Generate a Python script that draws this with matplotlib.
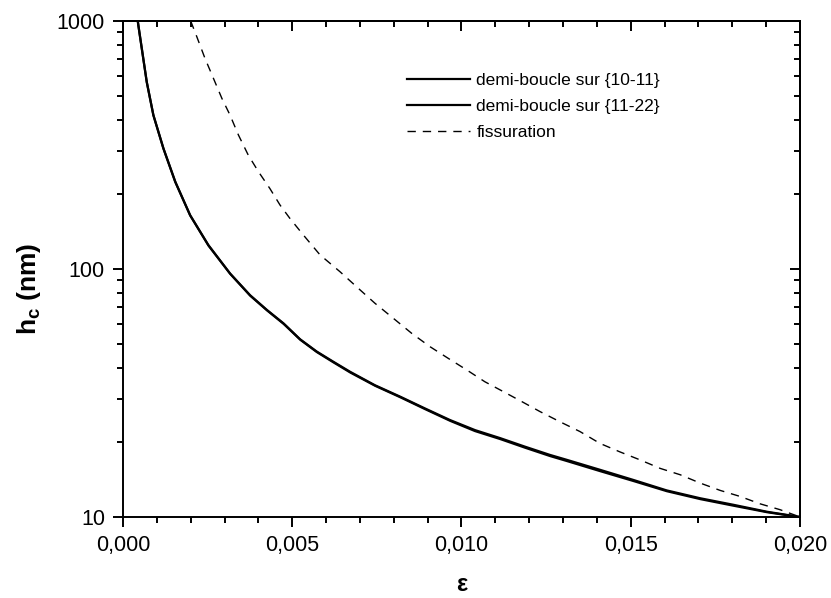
import matplotlib
matplotlib.use("Agg")
import matplotlib.pyplot as plt
from matplotlib.ticker import FuncFormatter, MultipleLocator, LogLocator, NullFormatter

plt.rcParams["font.family"] = ["Liberation Sans", "DejaVu Sans"]
plt.rcParams["mathtext.fontset"] = "custom"
plt.rcParams["mathtext.rm"] = "Liberation Sans"
plt.rcParams["mathtext.bf"] = "Liberation Sans:bold"

# values
eps_1011 = [0.000435, 0.000452, 0.000700, 0.000896, 0.00119, 0.00154, 0.00198, 0.00252,
            0.00316, 0.00375, 0.00425, 0.00474, 0.00523, 0.00572, 0.00621, 0.00671,
            0.00744, 0.00818, 0.00892, 0.00966, 0.0104, 0.01114, 0.01188, 0.01261,
            0.01311, 0.01409, 0.01508, 0.01606, 0.01705, 0.01803, 0.01902, 0.0198, 0.0200]
hc_1011 = [1000, 963, 569, 418, 307, 225, 165, 125,
           96, 78.5, 68.4, 60.4, 52.1, 46.5, 42.3, 38.5,
           34.0, 30.6, 27.4, 24.6, 22.4, 20.8, 19.2, 17.8,
           17.0, 15.5, 14.1, 12.8, 11.9, 11.2, 10.5, 10.1, 10.0]

eps_1122 = [0.000438, 0.000455, 0.000704, 0.000900, 0.00120, 0.00155, 0.00199, 0.00253,
            0.00317, 0.00376, 0.00426, 0.00475, 0.00524, 0.00573, 0.00622, 0.00672,
            0.00745, 0.00819, 0.00893, 0.00967, 0.0104, 0.01115, 0.01189, 0.01262,
            0.01312, 0.01410, 0.01509, 0.01607, 0.01706, 0.01804, 0.01903, 0.0198, 0.0200]
hc_1122 = [1000, 960, 566, 416, 305, 224, 164, 124,
           95.5, 78.0, 68.0, 60.0, 51.8, 46.2, 42.0, 38.2,
           33.8, 30.4, 27.2, 24.4, 22.2, 20.6, 19.0, 17.6,
           16.8, 15.3, 13.95, 12.7, 11.8, 11.1, 10.45, 10.08, 10.0]

eps_fiss = [0.00200, 0.00216, 0.00242, 0.00267, 0.00292, 0.00316, 0.00341, 0.00370,
            0.00400, 0.00434, 0.00464, 0.00493, 0.00533, 0.00582, 0.00641, 0.00695,
            0.00744, 0.00799, 0.00853, 0.00907, 0.00961, 0.01015, 0.01069, 0.01124,
            0.01178, 0.01232, 0.01291, 0.01350, 0.01409, 0.01468, 0.01527, 0.01587,
            0.01646, 0.01705, 0.01764, 0.01823, 0.01882, 0.01941, 0.0200]
hc_fiss = [1000, 879, 708, 588, 488, 418, 347, 288,
           247, 211, 181, 160, 137, 114, 97.5, 83.6,
           72.8, 63.2, 55.0, 48.6, 43.6, 39.2, 35.1, 32.0,
           29.2, 26.6, 24.2, 22.1, 19.8, 18.3, 17.0, 15.7,
           14.8, 13.7, 12.8, 12.1, 11.3, 10.7, 10.0]

labels = ["demi-boucle sur {10-11}", "demi-boucle sur {11-22}", "fissuration"]

fig = plt.figure(figsize=(8.31, 5.98), dpi=100)
ax = fig.add_axes([0.148, 0.1355, 0.8147, 0.8294])

ax.plot(eps_1011, hc_1011, color="black", lw=1.6, label=labels[0])
ax.plot(eps_1122, hc_1122, color="black", lw=1.6, label=labels[1])
ax.plot(eps_fiss, hc_fiss, color="black", lw=1.0, linestyle=(0, (6, 5)), label=labels[2])

ax.set_yscale("log")
ax.set_xlim(0, 0.020)
ax.set_ylim(10, 1000)

ax.xaxis.set_major_locator(MultipleLocator(0.005))
ax.xaxis.set_minor_locator(MultipleLocator(0.001))
ax.xaxis.set_major_formatter(FuncFormatter(lambda v, p: f"{v:.3f}".replace(".", ",")))
ax.yaxis.set_major_locator(LogLocator(base=10))
ax.yaxis.set_minor_locator(LogLocator(base=10, subs=range(2, 10)))
ax.yaxis.set_major_formatter(FuncFormatter(lambda v, p: f"{v:.0f}"))
ax.yaxis.set_minor_formatter(NullFormatter())

for s in ax.spines.values():
    s.set_linewidth(1.4)

ax.tick_params(which="both", direction="out", width=1.4, labelsize=15.5)
ax.tick_params(axis="x", which="major", pad=6)
ax.tick_params(axis="y", which="major", pad=6)
ax.tick_params(which="major", length=7)
ax.tick_params(which="minor", length=4)

# mirrored ticks on top and right point into the plot
top = ax.secondary_xaxis("top")
top.xaxis.set_major_locator(MultipleLocator(0.005))
top.xaxis.set_minor_locator(MultipleLocator(0.001))
top.tick_params(which="both", direction="in", width=1.4, labeltop=False)
top.tick_params(which="major", length=7)
top.tick_params(which="minor", length=4)
top.spines["top"].set_linewidth(1.4)

right = ax.secondary_yaxis("right")
right.yaxis.set_major_locator(LogLocator(base=10))
right.yaxis.set_minor_locator(LogLocator(base=10, subs=range(2, 10)))
right.yaxis.set_minor_formatter(NullFormatter())
right.tick_params(which="both", direction="in", width=1.4, labelright=False)
right.tick_params(which="major", length=7)
right.tick_params(which="minor", length=4)
right.spines["right"].set_linewidth(1.4)

ax.set_xlabel("ε", fontsize=17, fontweight="bold", labelpad=12)
ax.set_ylabel(r"$\mathbf{h_c}$ (nm)", fontsize=19, fontweight="bold")
ax.yaxis.set_label_coords(-0.118, 0.461)

ax.legend(loc="upper left", bbox_to_anchor=(407 / 831, 1 - 73 / 598),
          bbox_transform=fig.transFigure, frameon=False, fontsize=12.5,
          handlelength=3.6, handletextpad=0.4, labelspacing=0.62,
          borderpad=0, borderaxespad=0)

fig.savefig("out.png", dpi=100)
